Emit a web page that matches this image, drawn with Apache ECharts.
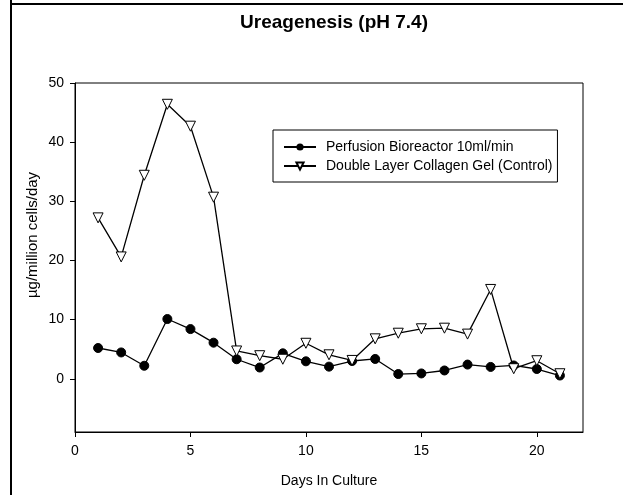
<!DOCTYPE html>
<html><head><meta charset="utf-8">
<script src="https://cdn.jsdelivr.net/npm/echarts@6/dist/echarts.min.js"></script>
<style>html,body{margin:0;padding:0;background:#fff}#c{width:623px;height:495px}</style>
</head><body><div id="c"></div>
<script>
const days = [1,2,3,4,5,6,7,8,9,10,11,12,13,14,15,16,17,18,19,20,21];
const perfusion = [5.2,4.45,2.2,10.1,8.4,6.1,3.3,1.9,4.3,2.95,2.05,3.0,3.35,0.8,0.9,1.4,2.4,2.0,2.25,1.65,0.55];
const control = [27.2,20.6,34.4,46.4,42.7,30.7,4.7,3.9,3.3,6.0,4.05,3.1,6.75,7.7,8.45,8.55,7.55,15.1,1.7,3.05,0.85];
const xTicks = [0,5,10,15,20];
const yTicks = [0,10,20,30,40,50];
const seriesNames = ['Perfusion Bioreactor 10ml/min','Double Layer Collagen Gel (Control)'];
const titleText = 'Ureagenesis (pH 7.4)';
const xName = 'Days In Culture';
const yName = 'µg/million cells/day';

const FONT = "'Liberation Sans', Arial, sans-serif";
const chart = echarts.init(document.getElementById('c'), null, {renderer:'canvas'});
const pairs = arr => days.map((d,i)=>[d,arr[i]]);
chart.setOption({
  animation:false,
  backgroundColor:'#fff',
  title:{text:titleText,left:329,top:8,textAlign:'center',
    textStyle:{fontFamily:FONT,fontSize:19,fontWeight:'bold',color:'#000'}},
  grid:{left:75,top:83,right:40,bottom:63,show:true,borderColor:'#000',borderWidth:1,containLabel:false},
  legend:{orient:'vertical',left:273,top:130,padding:[10,5,9,10],itemGap:5,itemWidth:32,itemHeight:9,
    borderColor:'#000',borderWidth:1,data:seriesNames,
    textStyle:{fontFamily:FONT,fontSize:14,color:'#000',padding:[0,0,0,5]}},
  xAxis:{type:'value',min:0,max:22,
    name:xName,nameLocation:'middle',nameGap:42,
    nameTextStyle:{fontFamily:FONT,fontSize:14,color:'#000'},
    axisLine:{show:true,onZero:false,lineStyle:{color:'#000',width:1}},
    axisTick:{show:true,length:5,inside:false,customValues:xTicks,lineStyle:{color:'#000'}},
    axisLabel:{customValues:xTicks,margin:12,fontFamily:FONT,fontSize:14,color:'#000'},
    splitLine:{show:false}},
  yAxis:{type:'value',min:-9,max:50,
    axisLine:{show:true,onZero:false,lineStyle:{color:'#000',width:1}},
    axisTick:{show:true,length:5,inside:false,customValues:yTicks,lineStyle:{color:'#000'}},
    axisLabel:{customValues:yTicks,margin:11,fontFamily:FONT,fontSize:14,color:'#000'},
    splitLine:{show:false}},
  graphic:[
    {type:'line',silent:true,shape:{x1:11,y1:0,x2:11,y2:495},style:{stroke:'#000',lineWidth:2}},
    {type:'line',silent:true,shape:{x1:10,y1:4,x2:623,y2:4},style:{stroke:'#000',lineWidth:2}},
    {type:'text',silent:true,x:33,y:235,rotation:Math.PI/2,
      style:{text:yName,fontFamily:FONT,fontSize:15,fill:'#000',align:'center',verticalAlign:'middle'}}
  ],
  series:[
    {name:seriesNames[0],type:'line',data:pairs(perfusion),symbol:'circle',symbolSize:9,
      lineStyle:{color:'#000',width:1.3},itemStyle:{color:'#000',borderColor:'#000'}},
    {name:seriesNames[1],type:'line',data:pairs(control),symbol:'triangle',symbolRotate:180,symbolSize:10,
      lineStyle:{color:'#000',width:1.3},itemStyle:{color:'#fff',borderColor:'#000',borderWidth:1}}
  ]
});
</script></body></html>
